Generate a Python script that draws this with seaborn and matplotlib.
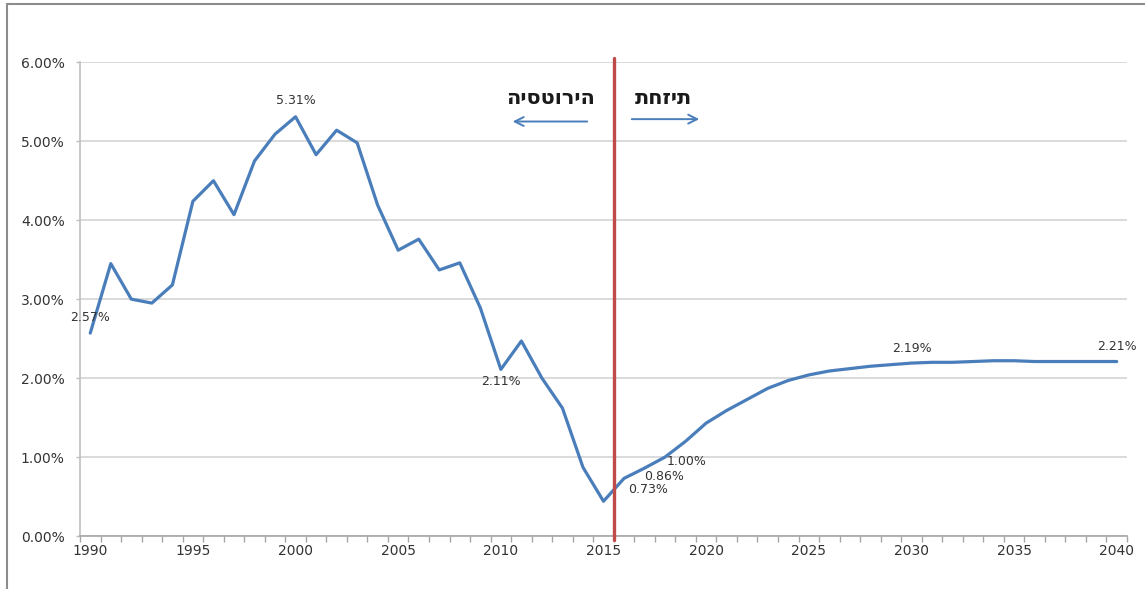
import matplotlib
matplotlib.use("Agg")
import matplotlib.pyplot as plt
import seaborn as sns
import pandas as pd
from matplotlib.lines import Line2D
from matplotlib.ticker import FuncFormatter, MultipleLocator

# נתונים (באחוזים)
years = list(range(1990, 2041))
rate = [2.57, 3.45, 3.00, 2.95, 3.18, 4.24, 4.50, 4.07, 4.75, 5.09,
        5.31, 4.83, 5.14, 4.98, 4.19, 3.62, 3.76, 3.37, 3.46, 2.89,
        2.11, 2.47, 2.00, 1.62, 0.87, 0.44, 0.73, 0.86, 1.00, 1.20,
        1.43, 1.59, 1.73, 1.87, 1.97, 2.04, 2.09, 2.12, 2.15, 2.17,
        2.19, 2.20, 2.20, 2.21, 2.22, 2.22, 2.21, 2.21, 2.21, 2.21, 2.21]
label_years = [1990, 2000, 2010, 2016, 2017, 2018, 2030, 2040]
divider_year = 2015.5
hist_label = "היסטוריה"
fcst_label = "תחזית"

df = pd.DataFrame({"year": years, "rate": rate})

BLUE = "#4a7ebb"
RED = "#be4b48"

sns.set_style("white")
plt.rcParams["font.family"] = ["DejaVu Sans"]

fig, ax = plt.subplots(figsize=(11.45, 5.89), dpi=100)
fig.subplots_adjust(left=80 / 1145, right=1127 / 1145, bottom=1 - 536 / 589, top=1 - 62.3 / 589)

sns.lineplot(data=df, x="year", y="rate", color=BLUE, linewidth=2.3, ax=ax, zorder=3)

ax.set_xlim(1989.5, 2040.5)
ax.set_ylim(0, 6)
ax.set_xlabel("")
ax.set_ylabel("")

# צירים ורשת
ax.yaxis.set_major_locator(MultipleLocator(1))
ax.yaxis.set_major_formatter(FuncFormatter(lambda v, p: f"{v:.2f}%"))
ax.xaxis.set_major_locator(MultipleLocator(5))
ax.xaxis.set_minor_locator(MultipleLocator(1, offset=0.5))
ax.grid(axis="y", color="#d4d4d4", linewidth=1.2)
for s in ["top", "right"]:
    ax.spines[s].set_visible(False)
ax.spines["left"].set_color("#bfbfbf")
ax.spines["bottom"].set_color("#a6a6a6")
ax.spines["left"].set_linewidth(1.2)
ax.spines["bottom"].set_linewidth(1.2)
ax.tick_params(axis="y", left=True, length=3, width=1, color="#bfbfbf", pad=8,
               labelsize=10, labelcolor="#333333")
ax.tick_params(axis="x", which="major", bottom=True, length=0, pad=6,
               labelsize=10, labelcolor="#333333")
ax.tick_params(axis="x", which="minor", bottom=True, length=4, width=1, color="#a6a6a6")

# קו הפרדה היסטוריה / תחזית
ax.plot([divider_year, divider_year], [-0.05, 6.055], color=RED, linewidth=2.4,
        clip_on=False, zorder=4)

# תוויות נתונים
offsets = {1990: (0, 16), 2000: (0, 16), 2010: (0, -12), 2016: (24, -11),
           2017: (20, -8), 2018: (22, -4), 2030: (0, 15), 2040: (0, 15)}
for yr in label_years:
    v = rate[years.index(yr)]
    ax.annotate(f"{v:.2f}%", xy=(yr, v), xytext=offsets[yr], textcoords="offset pixels",
                ha="center", va="center", fontsize=9, color="#333333", zorder=5)

# טקסט בעברית
ax.text(2012.44, 5.55, hist_label, ha="center", va="center", fontsize=15,
        fontweight="bold", color="#1a1a1a")
ax.text(2017.9, 5.55, fcst_label, ha="center", va="center", fontsize=15,
        fontweight="bold", color="#1a1a1a")
ax.annotate("", xy=(2010.44, 5.25), xytext=(2014.34, 5.25),
            arrowprops=dict(arrowstyle="->", color=BLUE, lw=1.4, mutation_scale=16))
ax.annotate("", xy=(2019.8, 5.28), xytext=(2016.24, 5.28),
            arrowprops=dict(arrowstyle="->", color=BLUE, lw=1.4, mutation_scale=16))

# מסגרת חיצונית
fig.add_artist(Line2D([7 / 1145, 7 / 1145], [0, 1 - 4 / 589], transform=fig.transFigure,
                      color="#8c8c8c", linewidth=1.5))
fig.add_artist(Line2D([7 / 1145, 1], [1 - 4 / 589, 1 - 4 / 589], transform=fig.transFigure,
                      color="#8c8c8c", linewidth=1.5))

fig.savefig("out.png", dpi=100)
